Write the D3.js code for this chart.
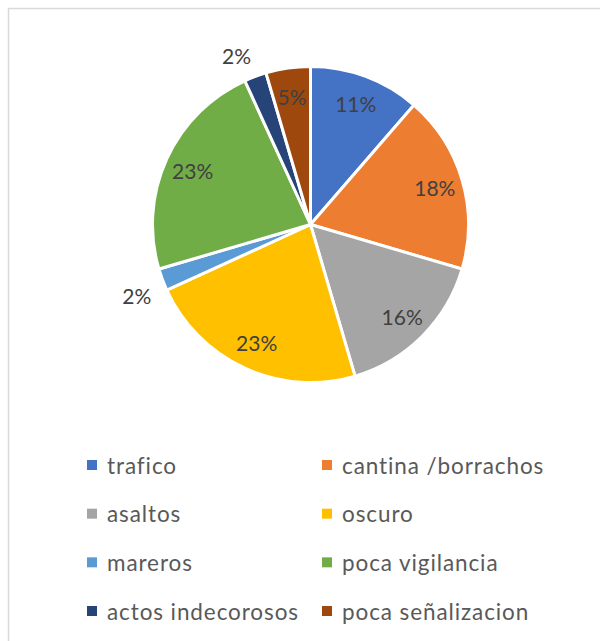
<!DOCTYPE html>
<html>
<head>
	<meta charset="utf-8">
	<title>pie</title>
	<script src="https://d3js.org/d3.v7.min.js"></script>
	<style>
		body {
			margin: 0;
			background-color: #fff;
			font-family: 'Lato', 'Open Sans', sans-serif;
		}
		.frame {
			fill: none;
			stroke: #d9d9d9;
			stroke-width: 1.5;
		}
		.slice {
			stroke: #fff;
			stroke-width: 3;
		}
		.pct {
			fill: #404040;
			font-size: 21px;
		}
		.legend-text {
			fill: #595959;
			font-size: 22.5px;
			letter-spacing: 0.9px;
		}
	</style>
</head>
<body>
	<div id="chart"></div>
<script>

	// Counts per reason (labels are shares of the total).
	const categories = ['trafico', 'cantina /borrachos', 'asaltos', 'oscuro', 'mareros', 'poca vigilancia', 'actos indecorosos', 'poca señalizacion'];
	const counts = [5, 8, 7, 10, 1, 10, 1, 2];
	const colors = ['#4472C4', '#ED7D31', '#A5A5A5', '#FFC000', '#5B9BD5', '#70AD47', '#264478', '#9E480E'];

	const width = 600;
	const height = 641;
	const cx = 310.5;
	const cy = 224.5;
	const radius = 158;

	const svg = d3.select('#chart')
	.append('svg')
		.attr('width', width)
		.attr('height', height);

	// Chart area border (right and bottom edges fall outside the picture).
	svg.append('rect')
		.attr('class', 'frame')
		.attr('x', 8.5)
		.attr('y', 8.5)
		.attr('width', 700)
		.attr('height', 800);

	const total = d3.sum(counts);
	const data = categories.map((c, i) => ({name: c, value: counts[i], color: colors[i]}));

	const pie = d3.pie().sort(null).value(d => d.value);
	const arcs = pie(data);

	const arc = d3.arc().innerRadius(0).outerRadius(radius);
	const insideArc = d3.arc().innerRadius(radius * 0.82).outerRadius(radius * 0.82);
	const outsideArc = d3.arc().innerRadius(radius + 12).outerRadius(radius + 12);

	const g = svg.append('g')
		.attr('transform', 'translate(' + cx + ',' + cy + ')');

	g.selectAll('path')
		.data(arcs)
		.enter().append('path')
			.attr('class', 'slice')
			.attr('d', arc)
			.attr('fill', d => d.data.color);

	const isSmall = d => d.data.value / total < 0.03;

	// Small slices get their label outside the pie, corner on the anchor point.
	g.selectAll('text')
		.data(arcs)
		.enter().append('text')
			.attr('class', 'pct')
			.attr('dominant-baseline', 'central')
			.attr('text-anchor', d => {
				if (!isSmall(d)) return 'middle';
				return outsideArc.centroid(d)[0] < 0 ? 'end' : 'start';
			})
			.attr('transform', d => {
				if (!isSmall(d)) return 'translate(' + insideArc.centroid(d) + ')';
				const p = outsideArc.centroid(d);
				return 'translate(' + p[0] + ',' + (p[1] + (p[1] < 0 ? -10 : 12)) + ')';
			})
			.text(d => Math.round(d.data.value / total * 100) + '%');

	// Legend: two columns, four rows.
	const colX = d3.scalePoint().domain([0, 1]).range([87, 322]);
	const rowY = d3.scalePoint().domain([0, 1, 2, 3]).range([465, 611]);

	const legend = svg.append('g')
		.selectAll('g')
		.data(data)
		.enter().append('g')
			.attr('transform', (d, i) => 'translate(' + colX(i % 2) + ',' + rowY(Math.floor(i / 2)) + ')');

	legend.append('rect')
		.attr('x', 0)
		.attr('y', -5)
		.attr('width', 10)
		.attr('height', 10)
		.attr('fill', d => d.color);

	legend.append('text')
		.attr('class', 'legend-text')
		.attr('x', 20)
		.attr('dominant-baseline', 'central')
		.text(d => d.name);

</script>
</body>
</html>
